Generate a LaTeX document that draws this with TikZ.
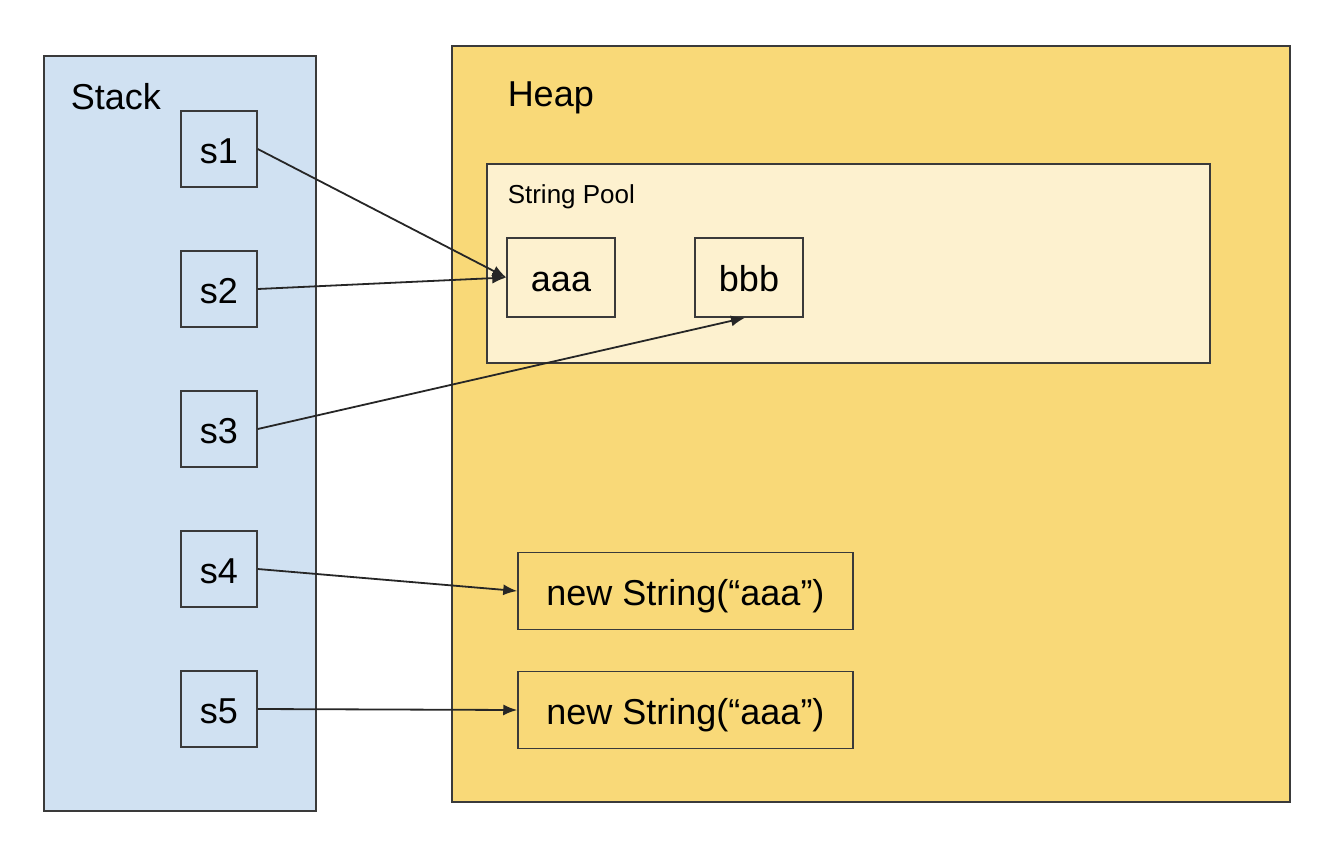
\documentclass[tikz,border=0pt]{standalone}
\usepackage{fontspec}
\setmainfont{Liberation Sans}
\usetikzlibrary{positioning, arrows.meta}
\definecolor{stackblue}{HTML}{D0E1F2}
\definecolor{heapyellow}{HTML}{F9D978}
\definecolor{poolcream}{HTML}{FDF1CF}
\definecolor{edgegray}{HTML}{3A3A3A}
\tikzset{
  area/.style={draw=edgegray, line width=1.5pt, inner sep=0pt, anchor=north west},
  cell/.style={draw=edgegray, line width=1.5pt, inner sep=0pt, text height=30pt,
    text depth=2pt, font=\fontsize{36}{43}\selectfont},
  caption/.style={inner sep=0pt, anchor=west, font=\fontsize{36}{43}\selectfont},
  ref/.style={-{Latex[length=14pt, width=11pt]}, line width=1.8pt, draw=black!85},
}
\begin{document}
\begin{tikzpicture}[x=1pt, y=-1pt, line width=1.5pt]
    \useasboundingbox (0,0) rectangle (1336,844);
    \node[area, fill=stackblue, minimum width=272pt, minimum height=755pt]
    (Stack) at (43,55) {};
    \node[area, fill=heapyellow, minimum width=838pt, minimum height=756pt]
    (Heap) at (451,45) {};
    \node[area, fill=poolcream, minimum width=723pt, minimum height=199pt]
    (Pool) at (486,163) {};

    \node[caption] (StackL) at (70,97) {Stack};
    \node[caption] (HeapL) at (507,98) {Heap};
    \node[caption, font=\fontsize{26}{31}\selectfont] (PoolL) at (507,197) {String Pool};

    \node[cell, minimum size=76pt] (s1) at (219,149) {s1};
    \node[cell, minimum size=76pt, below=62.5pt of s1] (s2) {s2};
    \node[cell, minimum size=76pt, below=62.5pt of s2] (s3) {s3};
    \node[cell, minimum size=76pt, below=62.5pt of s3] (s4) {s4};
    \node[cell, minimum size=76pt, below=62.5pt of s4] (s5) {s5};

    \node[cell, minimum width=108pt, minimum height=79pt] (aaa) at (561,277.5) {aaa};
    \node[cell, minimum width=108pt, minimum height=79pt, right=78.5pt of aaa] (bbb) {bbb};
    \node[cell, minimum width=335pt, minimum height=77pt] (N1) at (685.5,591) {new String(“aaa”)\hspace{14pt}};
    \node[cell, minimum width=335pt, minimum height=77pt, below=40.5pt of N1] (N2) {new String(“aaa”)\hspace{14pt}};

    \draw (s1.east) edge[ref] (aaa.west);
    \draw (s2.east) edge[ref] (aaa.west);
    \draw (s3.east) edge[ref] ([xshift=-4pt]bbb.south);
    \draw (s4.east) edge[ref] (N1.west);
    \draw (s5.east) edge[ref] (N2.west);
  \end{tikzpicture}
\end{document}
